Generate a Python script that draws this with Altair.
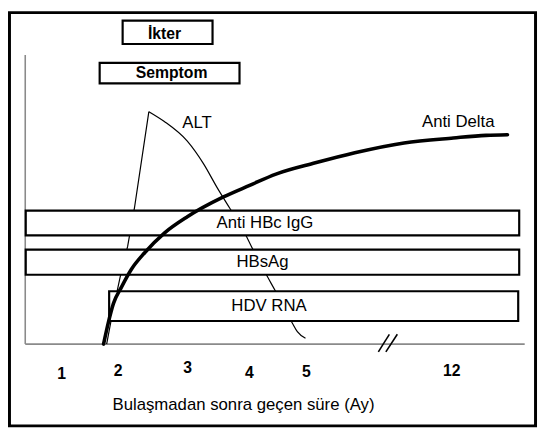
import altair as alt
import pandas as pd

# ---- data (time position 0-100 along the axis, level 0-100) ----
alt_up_t = [16.3, 17.6, 19.0, 20.5, 21.9, 24.75]
alt_up_v = [0.0, 11.9, 23.2, 33.8, 47.5, 80.4]
alt_down_t = [24.75, 27.85, 32.45, 35.74, 38.36, 40.99, 43.63, 45.60, 48.56, 50.20, 51.78, 53.49, 54.48, 56.11]
alt_down_v = [80.4, 77.0, 70.2, 62.25, 54.3, 46.9, 39.5, 32.7, 23.1, 18.0, 12.6, 7.2, 4.3, 2.0]

delta_t = [15.68, 16.67, 17.65, 19.29, 21.26, 23.91, 27.85, 32.45, 39.68, 44.93, 50.20, 58.09, 65.98, 75.84, 85.70, 92.27, 96.55]
delta_v = [0.0, 7.7, 14.0, 19.8, 25.9, 31.6, 38.4, 44.05, 50.9, 54.9, 58.8, 62.7, 66.2, 69.6, 71.3, 72.2, 72.4]

bar_names = ["Anti HBc IgG", "HBsAg", "HDV RNA"]
bar_start = [0.1, 0.1, 16.8]
bar_end = [98.9, 98.9, 98.7]
bar_top = [46.2, 32.7, 18.3]
bar_bottom = [37.6, 24.0, 8.0]
bar_label_t = [48.0, 47.5, 48.8]
bar_label_v = [41.7, 28.3, 13.0]

box_names = ["İkter", "Semptom"]
box_start = [19.5, 14.9]
box_end = [37.5, 42.9]
box_top = [111.9, 97.3]
box_bottom = [103.8, 90.2]
box_label_t = [27.9, 29.3]
box_label_v = [107.4, 93.7]

curve_labels = ["ALT", "Anti Delta"]
curve_label_t = [34.4, 86.7]
curve_label_v = [76.4, 76.8]

tick_labels = ["1", "2", "3", "4", "5", "12"]
tick_t = [7.3, 18.6, 32.5, 44.9, 56.3, 85.4]
tick_v = [-10.5, -9.3, -8.2, -9.9, -9.5, -9.3]

axis_title = "Bulaşmadan sonra geçen süre (Ay)"
axis_title_t = [43.7]
axis_title_v = [-21.2]

break_t0 = [70.7, 72.2]
break_t1 = [72.9, 74.5]
break_v0 = [-2.7, -2.7]
break_v1 = [3.4, 3.4]

# ---- scales ----
XS = alt.Scale(domain=[-3.156, 102.17], nice=False, zero=False)
YS = alt.Scale(domain=[-28.28, 114.65], nice=False, zero=False)
FONT = "Liberation Sans"


def X(f):
    return alt.X(f, type="quantitative", scale=XS, axis=None)


def Y(f):
    return alt.Y(f, type="quantitative", scale=YS, axis=None)


alt_up_df = pd.DataFrame({"t": alt_up_t, "v": alt_up_v, "i": range(len(alt_up_t))})
alt_down_df = pd.DataFrame({"t": alt_down_t, "v": alt_down_v, "i": range(len(alt_down_t))})
delta_df = pd.DataFrame({"t": delta_t, "v": delta_v, "i": range(len(delta_t))})
bars_df = pd.DataFrame({"name": bar_names, "t0": bar_start, "t1": bar_end,
                        "v0": bar_bottom, "v1": bar_top,
                        "lt": bar_label_t, "lv": bar_label_v})
boxes_df = pd.DataFrame({"name": box_names, "t0": box_start, "t1": box_end,
                         "v0": box_bottom, "v1": box_top,
                         "lt": box_label_t, "lv": box_label_v})
curve_lab_df = pd.DataFrame({"name": curve_labels, "t": curve_label_t, "v": curve_label_v})
ticks_df = pd.DataFrame({"name": tick_labels, "t": tick_t, "v": tick_v})
title_df = pd.DataFrame({"name": [axis_title], "t": axis_title_t, "v": axis_title_v})
break_df = pd.DataFrame({"t0": break_t0, "t1": break_t1, "v0": break_v0, "v1": break_v1})
axes_df = pd.DataFrame({"t0": [0, 0], "t1": [0, 100], "v0": [0, 0], "v1": [100, 0]})

axes = alt.Chart(axes_df).mark_rule(color="#8a8a8a", strokeWidth=1.6).encode(
    x=X("t0"), x2="t1", y=Y("v0"), y2="v1")

alt_up = alt.Chart(alt_up_df).mark_line(color="black", strokeWidth=1.2, interpolate="linear").encode(
    x=X("t"), y=Y("v"), order="i:Q")
alt_down = alt.Chart(alt_down_df).mark_line(color="black", strokeWidth=1.2, interpolate="monotone").encode(
    x=X("t"), y=Y("v"), order="i:Q")

bars = alt.Chart(bars_df).mark_rect(fill="white", stroke="black", strokeWidth=2.2).encode(
    x=X("t0"), x2="t1", y=Y("v0"), y2="v1")
bar_text = alt.Chart(bars_df).mark_text(font=FONT, fontSize=17, color="black").encode(
    x=X("lt"), y=Y("lv"), text="name:N")

delta = alt.Chart(delta_df).mark_line(color="black", strokeWidth=3.6, interpolate="monotone",
                                      strokeCap="round").encode(
    x=X("t"), y=Y("v"), order="i:Q")

boxes = alt.Chart(boxes_df).mark_rect(fill="white", stroke="black", strokeWidth=2.2).encode(
    x=X("t0"), x2="t1", y=Y("v0"), y2="v1")
box_text = alt.Chart(boxes_df).mark_text(font=FONT, fontSize=16, fontWeight="bold", color="black").encode(
    x=X("lt"), y=Y("lv"), text="name:N")

curve_text = alt.Chart(curve_lab_df).mark_text(font=FONT, fontSize=17, color="black").encode(
    x=X("t"), y=Y("v"), text="name:N")

tick_text = alt.Chart(ticks_df).mark_text(font=FONT, fontSize=16, fontWeight="bold", color="black").encode(
    x=X("t"), y=Y("v"), text="name:N")

title_text = alt.Chart(title_df).mark_text(font=FONT, fontSize=17, color="black").encode(
    x=X("t"), y=Y("v"), text="name:N")

breaks = alt.Chart(break_df).mark_rule(color="black", strokeWidth=1.6).encode(
    x=X("t0"), x2="t1", y=Y("v0"), y2="v1")

chart = alt.layer(
    axes, alt_up, alt_down, bars, bar_text, delta, boxes, box_text,
    curve_text, tick_text, title_text, breaks
).properties(
    width=534, height=419.5,
    padding={"left": 1.5, "top": 1.5, "right": 2.5, "bottom": 3},
    autosize=alt.AutoSizeParams(type="none"),
    background="white",
).configure_view(stroke="black", strokeWidth=3)

chart.save("out.html", embed_options={"renderer": "svg", "actions": False})
